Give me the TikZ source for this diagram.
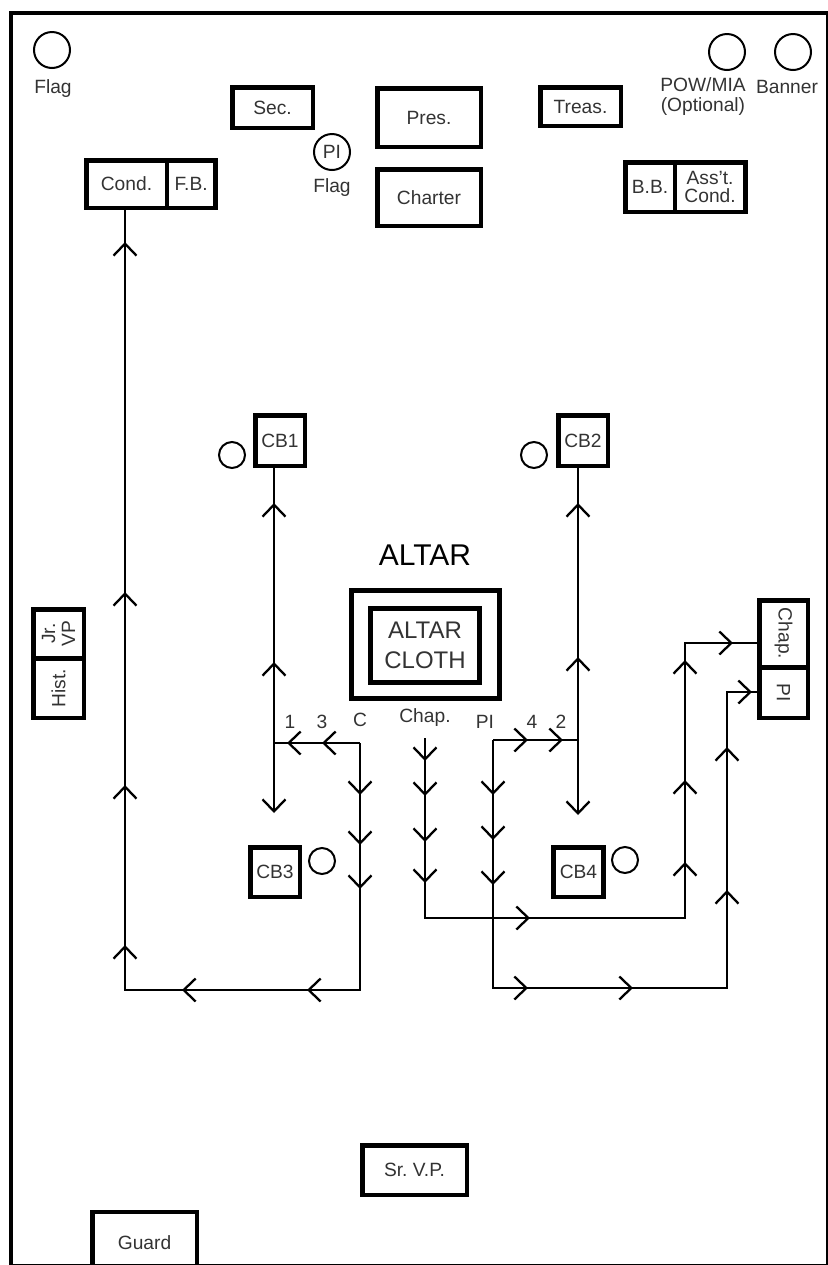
\documentclass[tikz,border=0pt]{standalone}
\usepackage{fontspec}
\setmainfont{Liberation Sans}
\usetikzlibrary{positioning,arrows.meta,decorations.markings}

\newcommand\lblfont{\fontsize{9.6}{10}\selectfont}
\frenchspacing

\begin{document}
\begin{tikzpicture}[
  x=0.5pt, y=-0.5pt,
  font=\lblfont, text=black!80,
  >={Straight Barb[length=6pt,width=11.5pt,line width=1.15pt]},
  box/.style={draw=black, line width=2.3pt, align=center, inner sep=0pt},
  circ/.style={draw=black, circle, line width=1pt, inner sep=0pt, minimum size=18pt},
  cbcirc/.style={circ, minimum size=13pt},
  lbl/.style={inner sep=0pt, align=center},
  flow/.style={line width=1pt, black},
  chev/.style={postaction={decorate, decoration={markings, mark=at position #1 with {\arrow{>}}}}},
]
\useasboundingbox (0,0) rectangle (828,1265);

%% ---------- hall outline ----------
\draw[line width=1.8pt] (11,13) rectangle (828,1266);

%% ---------- flags and banner ----------
\node[circ] (flag) at (52,50) {};
\node[lbl] (flagtxt) at (53,89) {Flag};
\node[circ] (piflag) at (332,152) {PI};
\node[lbl] (piflagtxt) at (332,188) {Flag};
\node[circ] (pow) at (727,52) {};
\node[lbl] (powtxt) at (703,97) {POW/MIA\\(Optional)};
\node[circ] (banner) at (793,52) {};
\node[lbl] (bantxt) at (787,87) {Banner};

%% ---------- officers' stations (top row) ----------
\node[box, minimum width=40.3pt, minimum height=20.3pt] (sec) at (272.5,107.5) {Sec.};
\node[box, minimum width=51.8pt, minimum height=29.3pt] (pres) at (429,117.5) {Pres.};
\node[box, minimum width=51.8pt, minimum height=28.3pt] (charter) at (429,197.5) {Charter};
\node[box, minimum width=40.3pt, minimum height=19.3pt] (treas) at (580.5,106.5) {Treas.};

\node[box, minimum width=40.3pt, minimum height=23.8pt] (cond) at (126.5,184) {Cond.};
\node[box, minimum width=24.3pt, minimum height=23.8pt, right=-2.3pt of cond] (fb) {F.B.};
\node[box, minimum width=24.8pt, minimum height=24.8pt] (bb) at (650,187) {B.B.};
\node[box, minimum width=35.3pt, minimum height=24.8pt, right=-2.3pt of bb,
      font=\fontsize{9.6}{8.6}\selectfont] (asst) {Ass't.\\Cond.};

%% ---------- side stations ----------
\node[box, rotate=90, minimum width=24.3pt, minimum height=25.3pt] (jrvp) at (58.5,633.5) {Jr.\\VP};
\node[box, rotate=90, minimum width=29.8pt, minimum height=25.3pt] (hist) at (58.5,688) {Hist.};
%% rotated clockwise: their south side faces the hall
\node[box, rotate=-90, minimum width=33.3pt, minimum height=24.3pt] (chapbox) at (783.5,633.5) {Chap.};
\node[box, rotate=-90, minimum width=25.3pt, minimum height=24.3pt] (pibox) at (783.5,692.5) {PI};

%% ---------- altar ----------
\node[lbl, font=\fontsize{15}{17}\selectfont, text=black] (altartxt) at (425,555) {ALTAR};
\node[box, line width=2.5pt, minimum width=74pt, minimum height=54pt] (altar) at (425.5,644.5) {};
\node[box, line width=2.5pt, minimum width=54.5pt, minimum height=37pt,
      font=\fontsize{12}{15}\selectfont] (cloth) at (425,645.5) {ALTAR\\CLOTH};

%% ---------- color bearers ----------
\node[box, minimum width=24.8pt, minimum height=25.3pt] (cb1) at (280,440.5) {CB1};
\node[box, minimum width=24.8pt, minimum height=25.3pt] (cb2) at (583,440.5) {CB2};
\node[box, minimum width=24.8pt, minimum height=24.8pt] (cb3) at (275,872) {CB3};
\node[box, minimum width=24.8pt, minimum height=24.8pt] (cb4) at (578.5,872) {CB4};
\node[cbcirc] (cb1c) at (232,455) {};
\node[cbcirc] (cb2c) at (534,455) {};
\node[cbcirc] (cb3c) at (322,861) {};
\node[cbcirc] (cb4c) at (625,860) {};

%% ---------- entrance ----------
\node[box, minimum width=52.3pt, minimum height=24.8pt] (srvp) at (414.5,1170) {Sr. V.P.};
\node[box, minimum width=52.3pt, minimum height=31pt] (guard) at (144.5,1243) {Guard};

%% ---------- start labels ----------
\node[lbl] (n1) at (290,722) {1};
\node[lbl] (n3) at (322,722) {3};
\node[lbl] (nc) at (360,720) {C};
\node[lbl] (nchap) at (425,718) {Chap.};
\node[lbl] (npi) at (485,722) {PI};
\node[lbl] (n4) at (532,722) {4};
\node[lbl] (n2) at (561,722) {2};

%% ---------- march routes ----------
\coordinate (cc) at (360,743);
\coordinate (cbot) at (360,990);
\coordinate (lbot) at (125,990);
\coordinate (j1) at (274,743);
\coordinate (j1end) at (274,813);
\coordinate (chtop) at (425,738);
\coordinate (chbot) at (425,918);
\coordinate (chrt) at (685,918);
\coordinate (chk) at (685,643);
\coordinate (pitop) at (493,740);
\coordinate (pibot) at (493,988);
\coordinate (pirt) at (727,988);
\coordinate (pik) at (727,692);
\coordinate (j2) at (578,740);
\coordinate (j2end) at (578,815);

% conductor: down, across the back, up the side to his station
\draw[flow, chev=26pt, chev=51pt, chev=73pt, chev=150pt, chev=212.5pt,
      chev=263.5pt, chev=343.5pt, chev=440pt, chev=615pt]
  (cc) -- (cbot) -- (lbot) -- (lbot |- cond.south);
\draw[flow, chev=19pt, chev=36.5pt] (cc) -- (j1);
\draw[flow, chev=40.5pt, chev=120pt] (j1) -- (j1 |- cb1.south);
\draw[flow, ->] (j1) -- (j1end);

% chaplain
\draw[flow, chev=11.5pt, chev=29pt, chev=52pt, chev=72.5pt, chev=142.5pt,
      chev=248pt, chev=289pt, chev=349pt, chev=381.5pt]
  (chtop) -- (chbot) -- (chrt) -- (chk) -- (chk -| chapbox.south);

% PI
\draw[flow, chev=27.5pt, chev=50pt, chev=72.5pt, chev=141.5pt, chev=194pt,
      chev=290pt, chev=361.5pt, chev=401.5pt]
  (pitop) -- (pibot) -- (pirt) -- (pik) -- (pik -| pibox.south);
\draw[flow, chev=17.5pt, chev=35pt] (pitop) -- (j2);
\draw[flow, chev=41.5pt, chev=118.5pt] (j2) -- (j2 |- cb2.south);
\draw[flow, ->] (j2) -- (j2end);

\end{tikzpicture}
\end{document}
